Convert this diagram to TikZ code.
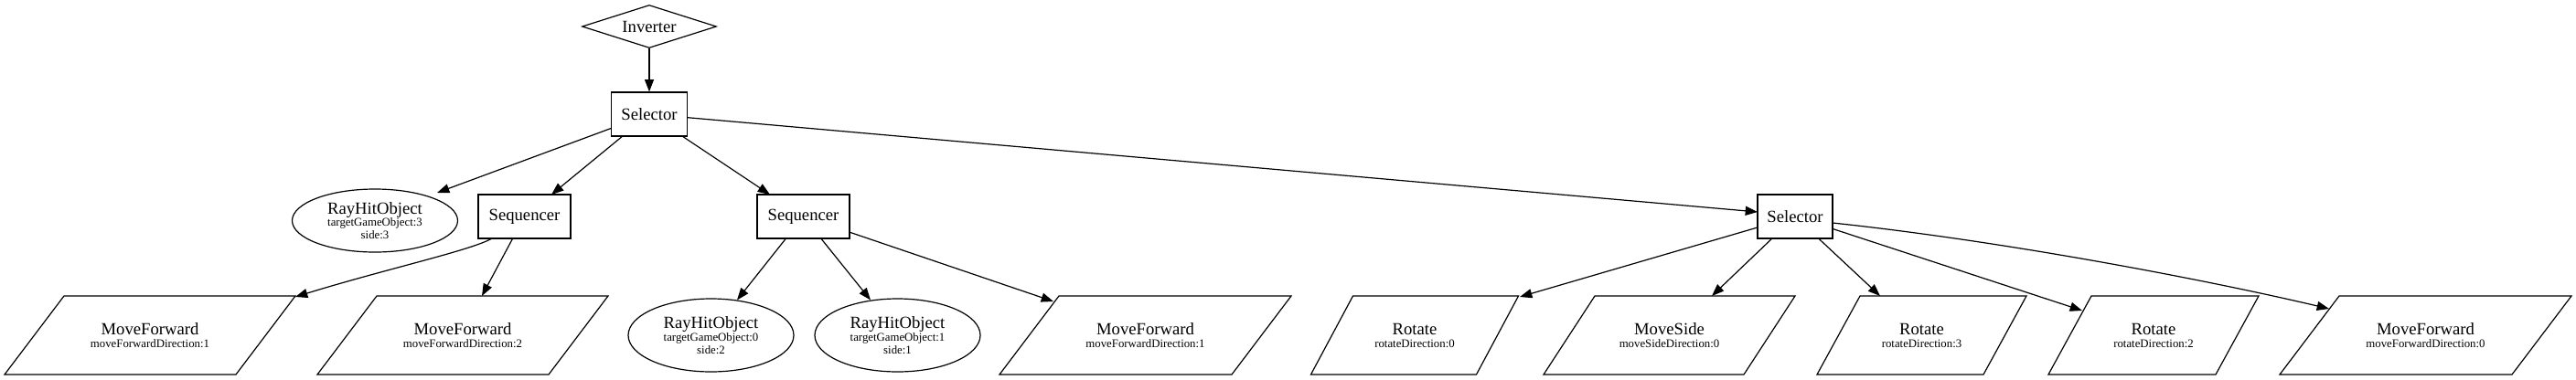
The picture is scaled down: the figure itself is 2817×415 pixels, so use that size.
\documentclass[tikz,border=0pt]{standalone}
\usepackage{fontspec}
\setmainfont{Liberation Serif}
\usetikzlibrary{shapes.geometric,arrows.meta,calc}
\newcommand{\mainf}{\fontsize{14}{14}\selectfont}
\newcommand{\pgramdraw}[3]{%
  \draw[pshape] ($(#1)+(-#2+#3,-43)$) -- ($(#1)+(#2+#3,-43)$) -- ($(#1)+(#2-#3,43)$) -- ($(#1)+(-#2-#3,43)$) -- cycle;}
\begin{document}
\begin{tikzpicture}[x=0.75pt,y=-0.75pt,
  base/.style={draw, line width=0.9pt, inner sep=0pt, font=\mainf},
  boxnode/.style={base, rectangle, minimum height=36pt},
  ovalnode/.style={base, ellipse, align=center, font=\fontsize{9.6}{10.25}\selectfont, minimum width=135.75pt},
  ptext/.style={inner sep=0pt, align=center, font=\fontsize{9.6}{10.5}\selectfont},
  pshape/.style={draw, line width=0.9pt, line join=miter},
  conn/.style={draw, line width=0.9pt, -{Triangle[length=10pt,width=7.5pt]}}]
\fill[white] (0,0) rectangle (2817,415);
\useasboundingbox (0,0) rectangle (2817,415);

% top
\node[base, diamond, aspect=3.13, minimum width=110.25pt, minimum height=35.25pt] (inv) at (710,29) {Inverter};
\node[boxnode, minimum width=62.25pt] (sel) at (710,125) {Selector};

% middle row
\node[ovalnode, minimum height=51.75pt] (rho3) at (410,241.5) {{\mainf RayHitObject}\\targetGameObject:3\\side:3};
\node[boxnode, minimum width=75.75pt] (seq1) at (573.5,237) {Sequencer};
\node[boxnode, minimum width=75.75pt] (seq2) at (878.5,237) {Sequencer};
\node[boxnode, minimum width=61.5pt] (sel2) at (1963,237) {Selector};

% bottom row
\node[ptext] (mf1) at (164,367) {{\mainf MoveForward}\\moveForwardDirection:1};
\node[ptext] (mf2) at (506,367) {{\mainf MoveForward}\\moveForwardDirection:2};
\node[ovalnode, minimum height=60pt] (rho0) at (777.5,367) {{\mainf RayHitObject}\\targetGameObject:0\\side:2};
\node[ovalnode, minimum height=60pt] (rho1) at (981.5,367) {{\mainf RayHitObject}\\targetGameObject:1\\side:1};
\node[ptext] (mf3) at (1252.5,367) {{\mainf MoveForward}\\moveForwardDirection:1};
\node[ptext] (rot0) at (1547,367) {{\mainf Rotate}\\rotateDirection:0};
\node[ptext] (ms0) at (1825.5,367) {{\mainf MoveSide}\\moveSideDirection:0};
\node[ptext] (rot3) at (2101.5,367) {{\mainf Rotate}\\rotateDirection:3};
\node[ptext] (rot2) at (2355,367) {{\mainf Rotate}\\rotateDirection:2};
\node[ptext] (mf0) at (2652.5,367) {{\mainf MoveForward}\\moveForwardDirection:0};

\pgramdraw{mf1}{126.5}{32.5}
\pgramdraw{mf2}{126.5}{32.5}
\pgramdraw{mf3}{127}{32.5}
\pgramdraw{rot0}{90.5}{23}
\pgramdraw{ms0}{109.5}{28}
\pgramdraw{rot3}{91}{23.5}
\pgramdraw{rot2}{91.5}{23.5}
\pgramdraw{mf0}{127}{32.5}

% connectors
\draw[conn] (inv) -- (sel);
\draw[conn] (sel) -- ($(rho3)+(68,-30.5)$);
\draw[conn] (sel) -- ($(seq1)+(29.5,-24)$);
\draw[conn] (sel) -- ($(seq2)+(-36.5,-24)$);
\draw[conn] (sel) -- ($(sel2)+(-41,-5)$);

\draw[conn] ($(seq1)+(-35.5,24)$) .. controls ($(seq1)+(-58,37)$) and ($(mf1)+(256,-72)$) .. ($(mf1)+(159,-42)$);
\draw[conn] (seq1) -- ($(mf2)+(21,-43)$);

\draw[conn] (seq2) -- ($(rho0)+(28.5,-38.5)$);
\draw[conn] (seq2) -- ($(rho1)+(-29.5,-38.5)$);
\draw[conn] (seq2) -- ($(mf3)+(-100.5,-37)$);

\draw[conn] (sel2) -- ($(rot0)+(115,-42)$);
\draw[conn] (sel2) -- ($(ms0)+(46.5,-43)$);
\draw[conn] (sel2) -- ($(rot3)+(-45.5,-43)$);
\draw[conn] (sel2) -- ($(rot2)+(-78,-27)$);
\draw[conn] ($(sel2)+(41,7)$) .. controls ($(sel2)+(237,28)$) and ($(mf0)+(-232.5,-59)$) .. ($(mf0)+(-105.5,-29)$);
\end{tikzpicture}
\end{document}
